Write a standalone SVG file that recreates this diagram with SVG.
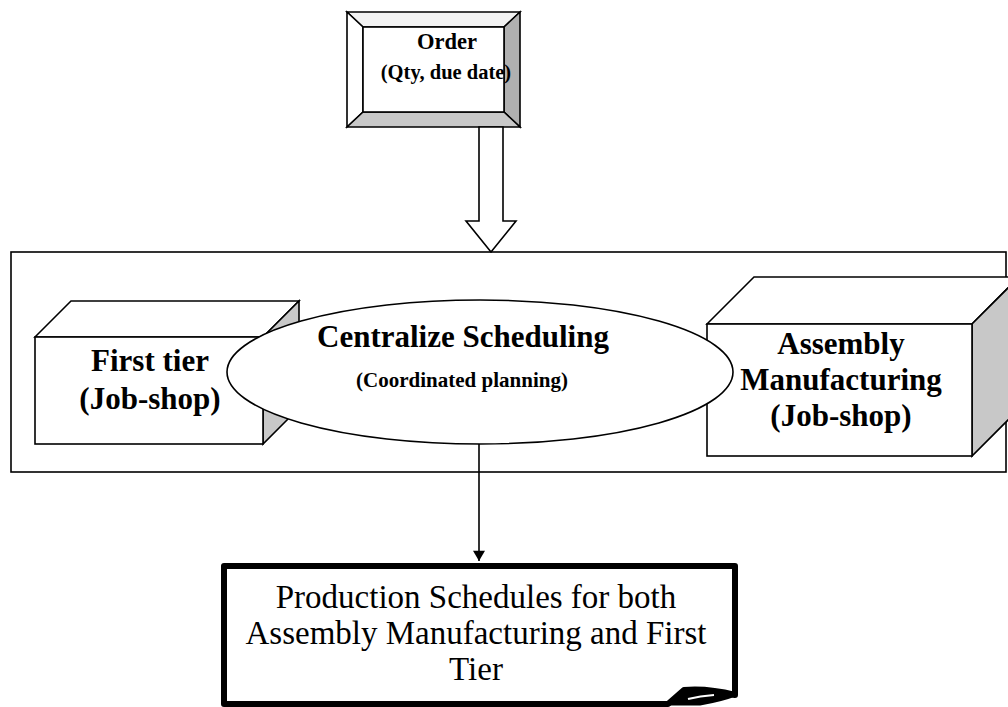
<svg xmlns="http://www.w3.org/2000/svg" width="1008" height="707" viewBox="0 0 1008 707">
  <defs>
    <style>
      .ln { stroke: #000; stroke-width: 1.6; stroke-linejoin: miter; }
      .wh { fill: #fff; }
      .gr { fill: #c8c8c8; }
      .t { font-family: "Liberation Serif", "Times New Roman", serif; fill: #000; text-anchor: middle; }
      .b { font-weight: bold; }
    </style>
    <marker id="arrow" viewBox="0 0 12 14" refX="12" refY="7" markerWidth="14" markerHeight="12" markerUnits="userSpaceOnUse" orient="auto">
      <path d="M0,0 L12,7 L0,14 Z" fill="#000"/>
    </marker>
  </defs>

  <rect width="1008" height="707" fill="#fff"/>

  <!-- outer frame holding the shops and the planner -->
  <g id="frame">
    <rect x="11" y="252" width="995" height="220" fill="none" class="ln"/>
  </g>

  <!-- order: bevelled box -->
  <g id="order">
    <polygon points="347,12 520,12 504,27 363,27" fill="#f2f2f2" class="ln"/>
    <polygon points="347,12 363,27 363,112 347,127" class="wh ln"/>
    <polygon points="520,12 520,127 504,112 504,27" fill="#b0b0b0" class="ln"/>
    <polygon points="347,127 363,112 504,112 520,127" class="gr ln"/>
    <rect x="363" y="27" width="141" height="85" class="wh ln"/>
    <text class="t b" x="447" y="49" font-size="22.5">Order</text>
    <text class="t b" x="446" y="79" font-size="20.5">(Qty, due date)</text>
  </g>

  <!-- first tier shop: cube -->
  <g id="first-tier">
    <polygon points="35,337 71,301 299,301 263,337" class="wh ln"/>
    <polygon points="263,337 299,301 299,408 263,444" class="gr ln"/>
    <rect x="35" y="337" width="228" height="107" class="wh ln"/>
    <text class="t b" x="150" y="371" font-size="31">First tier</text>
    <text class="t b" x="150" y="409" font-size="31">(Job-shop)</text>
  </g>

  <!-- assembly shop: cube -->
  <g id="assembly">
    <polygon points="707,324 754,277 1019,277 972,324" class="wh ln"/>
    <polygon points="972,324 1019,277 1019,409 972,456" class="gr ln"/>
    <rect x="707" y="324" width="265" height="132" class="wh ln"/>
    <text class="t b" x="841" y="354" font-size="31">Assembly</text>
    <text class="t b" x="841" y="390" font-size="31">Manufacturing</text>
    <text class="t b" x="841" y="426" font-size="31">(Job-shop)</text>
  </g>

  <!-- central planner: ellipse -->
  <g id="centralize">
    <ellipse cx="480" cy="372" rx="253" ry="72" class="wh ln"/>
    <text class="t b" x="463" y="347" font-size="31">Centralize Scheduling</text>
    <text class="t b" x="462" y="387" font-size="21">(Coordinated planning)</text>
  </g>

  <!-- output: folded-corner document -->
  <g id="schedules">
    <path d="M224,566 H735 V695 Q708,688 684,690 L668,704 H224 Z" fill="#fff" stroke="#000" stroke-width="6" stroke-linejoin="round"/>
    <path d="M735,695 Q708,688 684,690 L668,704 H700 Q722,700 735,695 Z" fill="#000" stroke="#000" stroke-width="3" stroke-linejoin="round"/>
    <path d="M688,699 Q700,696 714,695" fill="none" stroke="#fff" stroke-width="2"/>
    <text class="t" x="476" y="608" font-size="33">Production Schedules for both</text>
    <text class="t" x="476" y="644" font-size="33">Assembly Manufacturing and First</text>
    <text class="t" x="476" y="680" font-size="33">Tier</text>
  </g>

  <!-- connectors -->
  <g id="connectors">
    <polygon points="479,127 503,127 503,221 516,221 491,252 466,221 479,221" class="wh ln"/>
    <line x1="479" y1="444" x2="479" y2="561" stroke="#000" stroke-width="1.6" marker-end="url(#arrow)"/>
  </g>
</svg>
